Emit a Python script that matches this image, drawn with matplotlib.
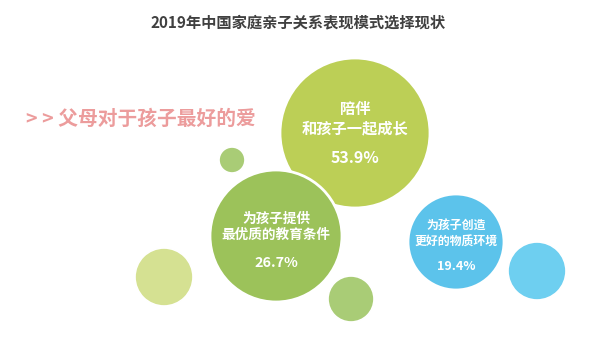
import matplotlib.pyplot as plt
from matplotlib.patches import Circle

plt.rcParams['font.family'] = ['Noto Sans CJK SC', 'DejaVu Sans']

# data
title = '2019年中国家庭亲子关系表现模式选择现状'
subtitle = '> > 父母对于孩子最好的爱'
labels = ['陪伴\n和孩子一起成长', '为孩子提供\n最优质的教育条件', '为孩子创造\n更好的物质环境']
values = [53.9, 26.7, 19.4]

# layout of the main bubbles (pixels)
main_xy = [(355, 133), (276, 236), (456, 242)]
main_r = [75, 66, 48]
main_col = ['#bccf56', '#9cc25a', '#5cc3eb']
label_size = [11, 9.8, 8.6]
label_dy = [(-14, 25), (-9, 27), (-8, 24)]

# decorative bubbles
deco_xy = [(232, 160), (164, 277), (351, 299), (537, 271)]
deco_r = [13, 29, 23, 29]
deco_col = ['#a9cc76', '#d5e192', '#a9cc76', '#6ecff0']

fig = plt.figure(figsize=(6, 3.47), dpi=100)
ax = fig.add_axes([0, 0, 1, 1])
ax.set_xlim(0, 600)
ax.set_ylim(347, 0)
ax.set_aspect('equal')
ax.axis('off')

for (x, y), r, c in zip(deco_xy, deco_r, deco_col):
    ax.add_patch(Circle((x, y), r, facecolor=c, edgecolor='white', lw=1.2))

for (x, y), r, c in zip(main_xy, main_r, main_col):
    ax.add_patch(Circle((x, y), r, facecolor=c, edgecolor='white', lw=2))

for (x, y), lab, v, fs, (dl, dv) in zip(main_xy, labels, values, label_size, label_dy):
    ax.text(x, y + dl, lab, ha='center', va='center', color='white',
            fontsize=fs, fontweight='bold', linespacing=1.25)
    ax.text(x, y + dv, f'{v}%', ha='center', va='center', color='white',
            fontsize=fs + 0.5, fontweight='bold')

ax.text(298, 22, title, ha='center', va='center', color='#404040',
        fontsize=11, fontweight='bold')
ax.text(26, 119, subtitle, ha='left', va='center', color='#ec9c9c',
        fontsize=14.2, fontweight='bold')

fig.savefig('out.png', dpi=100)
